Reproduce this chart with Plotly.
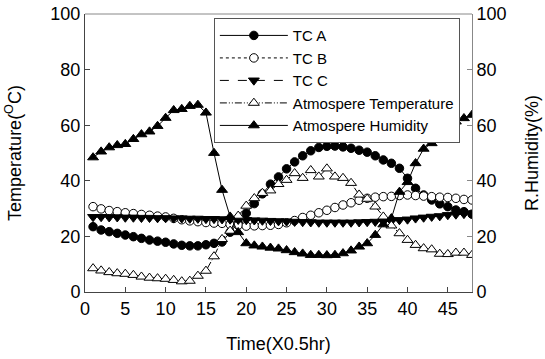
import plotly.graph_objects as go

time = list(range(1, 49))

tc_a = [23.5, 22.3, 21.7, 21.1, 20.5, 19.9, 19.3, 18.7, 18.3, 17.9, 17.3, 16.8,
        16.6, 16.6, 17.0, 17.5, 18.0, 21.5, 24.8, 28.3, 31.8, 35.3, 38.8, 41.4,
        44.3, 46.8, 49.0, 50.8, 52.0, 52.4, 52.5, 52.2, 51.7, 51.0, 50.3, 49.0,
        47.5, 46.3, 44.5, 40.9, 37.3, 34.9, 33.1, 31.7, 30.7, 29.5, 28.9, 28.0]

tc_b = [30.7, 29.9, 29.3, 28.9, 28.5, 28.2, 27.9, 27.6, 27.3, 27.0, 26.5, 26.0,
        25.6, 25.3, 25.0, 24.8, 24.7, 24.3, 24.0, 23.7, 23.8, 23.9, 24.0, 24.3,
        24.9, 25.7, 26.8, 27.6, 28.5, 29.4, 30.4, 31.3, 32.1, 33.0, 33.7, 34.1,
        34.3, 34.4, 34.7, 34.9, 34.7, 34.5, 34.3, 34.1, 34.0, 33.7, 33.3, 33.1]

tc_c = [27.0, 27.0, 26.9, 26.9, 26.8, 26.8, 26.7, 26.7, 26.6, 26.6, 26.5, 26.5,
        26.4, 26.4, 26.3, 26.3, 26.2, 26.1, 26.0, 25.9, 25.8, 25.7, 25.6, 25.5,
        25.4, 25.3, 25.2, 25.1, 25.0, 25.0, 25.0, 25.0, 25.0, 25.1, 25.2, 25.3,
        25.3, 25.5, 25.9, 26.1, 26.5, 26.8, 27.1, 27.3, 27.7, 27.9, 28.1, 28.3]

atm_temp = [8.5, 7.7, 7.1, 6.7, 6.5, 6.1, 5.5, 5.1, 4.9, 4.7, 4.3, 3.8,
            4.0, 5.8, 7.6, 12.8, 19.0, 22.0, 27.4, 31.0, 33.7, 35.6, 36.5, 38.8,
            40.3, 42.7, 41.0, 43.8, 41.5, 44.4, 41.5, 41.0, 39.2, 35.0, 33.5, 30.7,
            27.1, 23.9, 21.1, 18.7, 16.9, 15.7, 15.3, 13.7, 13.6, 14.1, 14.1, 13.3]

atm_hum = [48.4, 50.5, 52.0, 52.8, 53.2, 55.0, 56.7, 57.7, 59.7, 62.6, 65.4, 65.8,
           66.9, 67.3, 64.5, 50.0, 36.7, 27.1, 21.5, 17.5, 16.7, 16.3, 15.9, 15.6,
           15.0, 14.3, 13.8, 13.3, 13.3, 13.2, 13.3, 13.9, 14.9, 16.3, 17.5, 20.5,
           24.3, 26.5, 36.0, 39.5, 46.3, 51.5, 53.5, 58.3, 60.0, 61.3, 62.5, 63.7]

x_ticks = [0, 5, 10, 15, 20, 25, 30, 35, 40, 45]
y_ticks = [0, 20, 40, 60, 80, 100]

FONT = "Liberation Sans, Arial, sans-serif"
MS = 8.5

fig = go.Figure()
fig.add_trace(go.Scatter(
    x=time, y=tc_a, name="TC A", mode="lines+markers",
    line=dict(color="black", width=1),
    marker=dict(symbol="circle", size=MS, color="black", line=dict(color="black", width=1))))
fig.add_trace(go.Scatter(
    x=time, y=tc_b, name="TC B", mode="lines+markers",
    line=dict(color="black", width=1, dash="dot"),
    marker=dict(symbol="circle", size=MS, color="white", line=dict(color="black", width=1))))
fig.add_trace(go.Scatter(
    x=time, y=tc_c, name="TC C", mode="lines+markers",
    line=dict(color="black", width=1, dash="dash"),
    marker=dict(symbol="triangle-down", size=MS + 1, color="black", line=dict(color="black", width=1))))
fig.add_trace(go.Scatter(
    x=time, y=atm_temp, name="Atmospere Temperature", mode="lines+markers",
    line=dict(color="black", width=1, dash="7px,2px,1px,2px,1px,2px"),
    marker=dict(symbol="triangle-up", size=MS + 1, color="white", line=dict(color="black", width=1))))
fig.add_trace(go.Scatter(
    x=time, y=atm_hum, name="Atmospere Humidity", mode="lines+markers", yaxis="y2",
    line=dict(color="black", width=1),
    marker=dict(symbol="triangle-up", size=MS + 1, color="black", line=dict(color="black", width=1))))

fig.update_layout(
    width=545, height=359,
    margin=dict(l=85, r=73, t=14, b=67, autoexpand=False),
    paper_bgcolor="white", plot_bgcolor="white",
    font=dict(family=FONT, size=17, color="black"),
    showlegend=True,
    legend=dict(
        x=0.333, y=0.985, xanchor="left", yanchor="top",
        bgcolor="white", bordercolor="#555", borderwidth=1,
        font=dict(family=FONT, size=15, color="black"),
        itemwidth=68, tracegroupgap=0,
    ),
    xaxis=dict(
        range=[0, 48], tickvals=x_ticks, ticks="inside", ticklen=5,
        tickcolor="#444", showline=True, linecolor="#444", linewidth=1,
        showgrid=False, zeroline=False, mirror=False,
        title=dict(text="Time(X0.5hr)", font=dict(size=18), standoff=19),
        tickfont=dict(size=18),
    ),
    yaxis=dict(
        range=[0, 100], tickvals=y_ticks, ticks="inside", ticklen=5,
        tickcolor="#444", showline=True, linecolor="#444", linewidth=1,
        showgrid=False, zeroline=False,
        title=dict(text="Temperature(<sup>O</sup>C)", font=dict(size=18), standoff=24),
        tickfont=dict(size=18),
    ),
    yaxis2=dict(
        range=[0, 100], tickvals=y_ticks, ticks="inside", ticklen=5,
        tickcolor="#888", showline=True, linecolor="#888", linewidth=1,
        overlaying="y", side="right", showgrid=False, zeroline=False,
        title=dict(text="R.Humidity(%)", font=dict(size=18), standoff=19),
        tickfont=dict(size=18),
    ),
    shapes=[dict(type="line", xref="paper", yref="paper", x0=0, x1=1, y0=1, y1=1,
                 line=dict(color="#888", width=1))],
)

fig.write_html("out.html")
